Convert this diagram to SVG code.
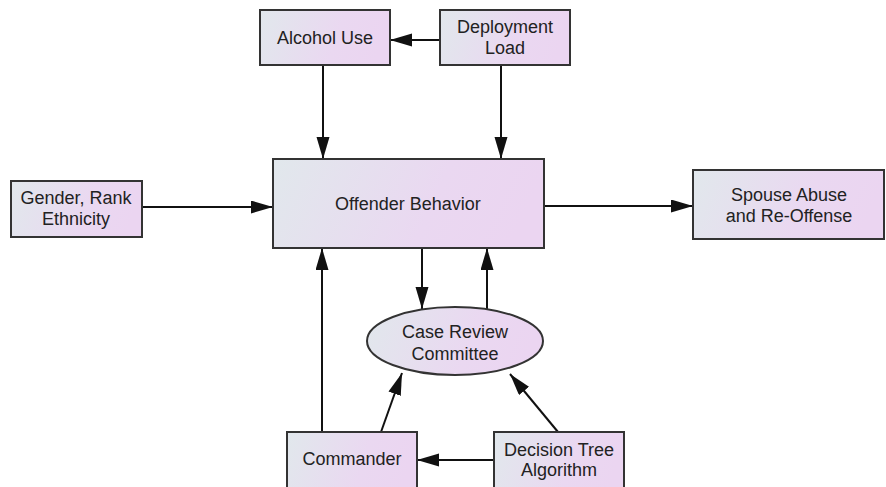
<svg xmlns="http://www.w3.org/2000/svg" width="886" height="487" viewBox="0 0 886 487">
  <defs>
    <linearGradient id="fill" x1="0" y1="0" x2="1" y2="0.15">
      <stop offset="0" stop-color="#e1e8ec"/>
      <stop offset="0.65" stop-color="#ead8f1"/>
      <stop offset="1" stop-color="#ebd5f1"/>
    </linearGradient>
    <marker id="arrow" markerUnits="userSpaceOnUse" markerWidth="24" markerHeight="14" refX="22" refY="6.5" orient="auto">
      <path d="M0,0 L22,6.5 L0,13 Z" fill="#111"/>
    </marker>
    <style>
      .box { fill: url(#fill); stroke: #333; stroke-width: 2; }
      .lbl { font-family: "Liberation Sans", Arial, sans-serif; font-size: 18px; fill: #222; text-anchor: middle; }
      .edge { stroke: #111; stroke-width: 2; fill: none; marker-end: url(#arrow); }
    </style>
  </defs>
  <rect width="886" height="487" fill="#fff"/>

  <g id="connectors">
    <line class="edge" x1="440" y1="40" x2="390" y2="40"/>
    <line class="edge" x1="323" y1="65" x2="323" y2="159"/>
    <line class="edge" x1="501" y1="65" x2="501" y2="159"/>
    <line class="edge" x1="142" y1="207" x2="273" y2="207"/>
    <line class="edge" x1="544" y1="206" x2="693" y2="206"/>
    <line class="edge" x1="422" y1="248" x2="422" y2="309"/>
    <line class="edge" x1="487" y1="309" x2="487" y2="248"/>
    <line class="edge" x1="322" y1="432" x2="322" y2="248"/>
    <line class="edge" x1="381" y1="432" x2="402" y2="373"/>
    <line class="edge" x1="558" y1="432" x2="510" y2="374"/>
    <line class="edge" x1="494" y1="460" x2="417" y2="460"/>
  </g>

  <g id="alcohol-use">
    <rect class="box" x="260" y="10" width="130" height="55"/>
    <text class="lbl" x="325" y="44">Alcohol Use</text>
  </g>

  <g id="deployment-load">
    <rect class="box" x="440" y="10" width="130" height="55"/>
    <text class="lbl" x="505" y="33">Deployment</text>
    <text class="lbl" x="505" y="54">Load</text>
  </g>

  <g id="gender-rank">
    <rect class="box" x="11" y="181" width="131" height="56"/>
    <text class="lbl" x="76" y="204">Gender, Rank</text>
    <text class="lbl" x="76" y="225">Ethnicity</text>
  </g>

  <g id="offender-behavior">
    <rect class="box" x="273" y="159" width="271" height="89"/>
    <text class="lbl" x="408" y="210">Offender Behavior</text>
  </g>

  <g id="spouse-abuse">
    <rect class="box" x="693" y="170" width="191" height="69"/>
    <text class="lbl" x="789" y="201">Spouse Abuse</text>
    <text class="lbl" x="789" y="222">and Re-Offense</text>
  </g>

  <g id="case-review">
    <ellipse class="box" cx="455" cy="341" rx="88" ry="34"/>
    <text class="lbl" x="455" y="338">Case Review</text>
    <text class="lbl" x="455" y="360">Committee</text>
  </g>

  <g id="commander">
    <rect class="box" x="287" y="432" width="130" height="60"/>
    <text class="lbl" x="352" y="465">Commander</text>
  </g>

  <g id="decision-tree">
    <rect class="box" x="494" y="432" width="130" height="60"/>
    <text class="lbl" x="559" y="456">Decision Tree</text>
    <text class="lbl" x="559" y="476">Algorithm</text>
  </g>
</svg>
